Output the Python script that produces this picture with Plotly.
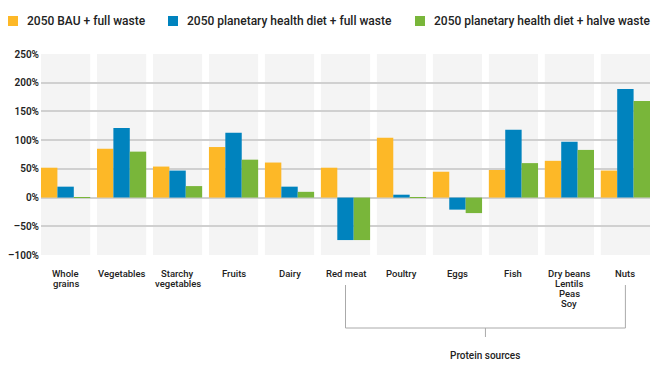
import plotly.graph_objects as go

categories = ["Whole<br>grains", "Vegetables", "Starchy<br>vegetables", "Fruits", "Dairy",
              "Red meat", "Poultry", "Eggs", "Fish", "Dry beans<br>Lentils<br>Peas<br>Soy", "Nuts"]
series_names = ["2050 BAU + full waste",
                "2050 planetary health diet + full waste",
                "2050 planetary health diet + halve waste"]
bau_full = [52, 85, 54, 88, 61, 52, 104, 45, 48, 64, 47]
phd_full = [19, 121, 47, 113, 19, -74, 5, -21, 118, 97, 189]
phd_halve = [1, 80, 20, 66, 10, -74, 1, -27, 60, 83, 168]
colors = ["#FDB827", "#0083BE", "#79B63A"]
y_ticks = [-100, -50, 0, 50, 100, 150, 200, 250]
y_ticktext = [("\u2013" if v < 0 else "") + f"{abs(v)}%" for v in y_ticks]
group_label = "Protein sources"
group_span = (5, 10)

FONT = "Roboto"
OFF = 8  # page body margin
W, H = 660, 357
L, R, T, B = 33, 18, 46, 110
PW, PH = W - L - R, H - T - B


def px2x(px):
    return (px - OFF - L) / PW


def px2y(py):
    return (H - B - (py - OFF)) / PH


fig = go.Figure()
for name, vals, col in zip(series_names, [bau_full, phd_full, phd_halve], colors):
    fig.add_trace(go.Bar(x=list(range(len(categories))), y=vals, name=name,
                         marker=dict(color=col, line=dict(width=0)), showlegend=False))

half = 0.4395
shapes = []
for i in range(len(categories)):
    shapes.append(dict(type="rect", xref="x", yref="paper", x0=i - half, x1=i + half,
                       y0=0, y1=1, fillcolor="#F4F4F4", line=dict(width=0), layer="below"))

# bracket for protein sources
lc = dict(color="#AAAAAA", width=1)
ya, yb, yc = px2y(285), px2y(328), px2y(337)
a, b = group_span
mid = (a + b) / 2
shapes += [
    dict(type="line", xref="x", yref="paper", x0=a, x1=a, y0=ya, y1=yb, line=lc),
    dict(type="line", xref="x", yref="paper", x0=b, x1=b, y0=ya, y1=yb, line=lc),
    dict(type="line", xref="x", yref="paper", x0=a, x1=b, y0=yb, y1=yb, line=lc),
    dict(type="line", xref="x", yref="paper", x0=mid, x1=mid, y0=yb, y1=yc, line=lc),
]

annotations = [dict(text=group_label, xref="x", yref="paper", x=mid, y=px2y(355),
                    showarrow=False, xanchor="center", yanchor="middle",
                    font=dict(family=FONT, size=10, color="#222", weight=500))]

# category labels, one line at a time (10 px line spacing)
for i, cat in enumerate(categories):
    for j, line in enumerate(cat.split("<br>")):
        annotations.append(dict(text=line, xref="x", yref="paper", x=i, y=px2y(273 + 10 * j),
                                showarrow=False, xanchor="center", yanchor="middle",
                                font=dict(family=FONT, size=9.5, color="#222", weight=500)))

# manual legend
leg_sq_x = [8, 168, 415]
for sx, name, col in zip(leg_sq_x, series_names, colors):
    shapes.append(dict(type="rect", xref="paper", yref="paper", x0=px2x(sx), x1=px2x(sx + 10),
                       y0=px2y(26), y1=px2y(16), fillcolor=col, line=dict(width=0)))
    annotations.append(dict(text=name, xref="paper", yref="paper", x=px2x(sx + 17), y=px2y(21),
                            showarrow=False, xanchor="left", yanchor="middle",
                            font=dict(family=FONT, size=12, color="#222", weight=500)))

fig.update_layout(
    width=W, height=H, margin=dict(l=L, r=R, t=T, b=B, pad=0, autoexpand=False),
    paper_bgcolor="white", plot_bgcolor="white",
    barmode="group", bargap=0.121, bargroupgap=0,
    shapes=shapes, annotations=annotations,
    font=dict(family=FONT, color="#222"),
    xaxis=dict(range=[-half, len(categories) - 1 + half],
               showgrid=False, zeroline=False, showline=False, ticks="",
               showticklabels=False),
    yaxis=dict(range=[-100, 250], tickmode="array", tickvals=y_ticks, ticktext=y_ticktext,
               showgrid=True, gridcolor="#D0D0D0", gridwidth=1.5, zeroline=False,
               showline=False, ticks="", ticklabelstandoff=1, automargin=False,
               tickfont=dict(family=FONT, size=10, color="#222", weight=600)),
)

fig.write_html("out.html")
